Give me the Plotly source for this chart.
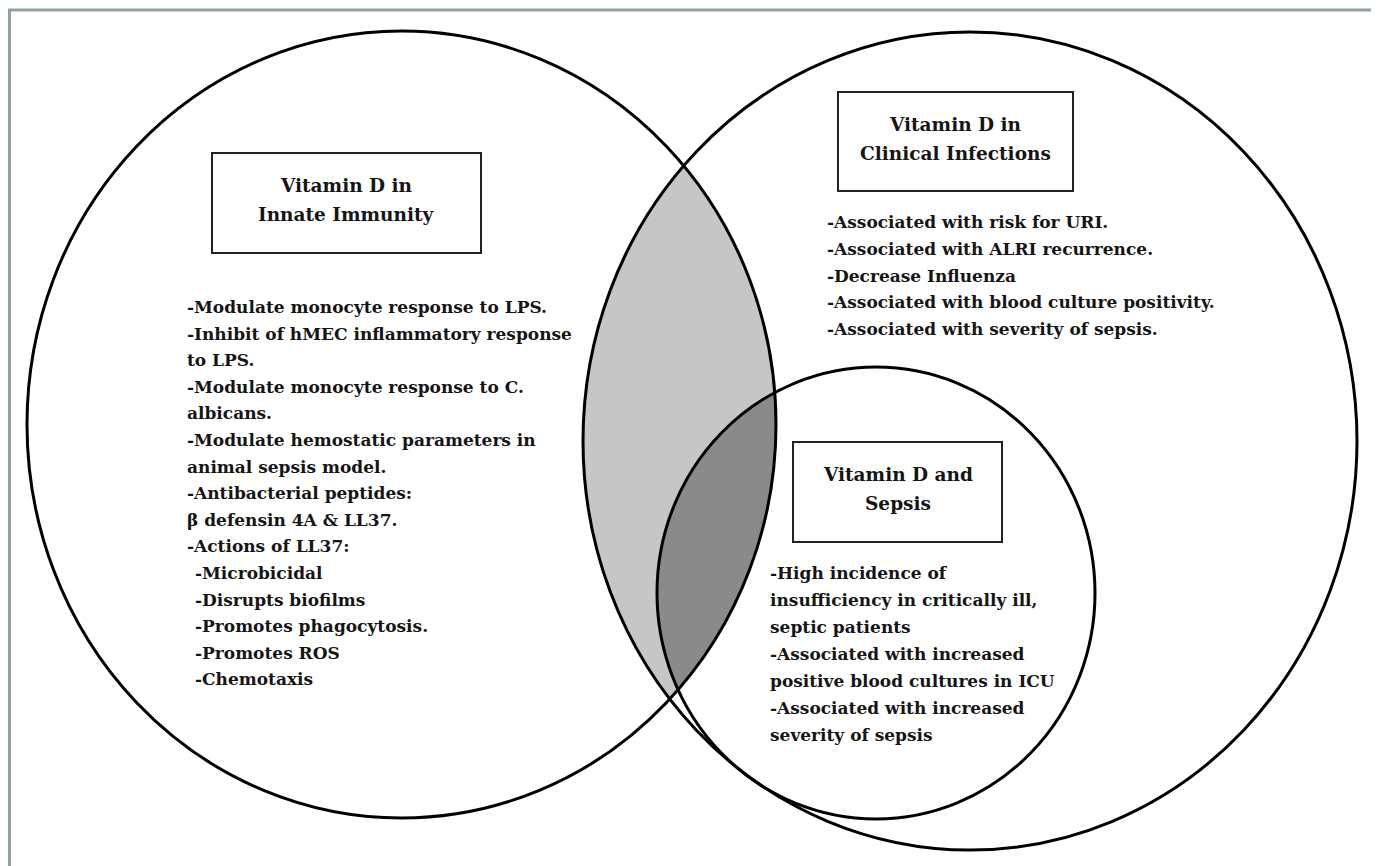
import numpy as np
import plotly.graph_objects as go

W, H = 1379, 866
OFF = 8  # default page margin of the html body

# circle geometry: (cx, cy, rx, ry) in pixel space
circle_names = ["Innate Immunity", "Clinical Infections", "Sepsis"]
circle_cx = [401.5, 970, 876]
circle_cy = [424.5, 441, 593]
circle_rx = [374.5, 387, 219]
circle_ry = [393.5, 409, 226]

# header boxes
box_titles = [["Vitamin D in", "Innate Immunity"],
              ["Vitamin D in", "Clinical Infections"],
              ["Vitamin D and", "Sepsis"]]
box_x0 = [212, 838, 793]
box_x1 = [481, 1073, 1002]
box_y0 = [153, 92, 442]
box_y1 = [253, 191, 542]

innate_lines = [
    "-Modulate monocyte response to LPS.",
    "-Inhibit of hMEC inflammatory response",
    "to LPS.",
    "-Modulate monocyte response to C.",
    "albicans.",
    "-Modulate hemostatic parameters in",
    "animal sepsis model.",
    "-Antibacterial peptides:",
    "β defensin 4A & LL37.",
    "-Actions of LL37:",
    "  -Microbicidal",
    "  -Disrupts biofilms",
    "  -Promotes phagocytosis.",
    "  -Promotes ROS",
    "  -Chemotaxis",
]
clinical_lines = [
    "-Associated with risk for URI.",
    "-Associated with ALRI recurrence.",
    "-Decrease Influenza",
    "-Associated with blood culture positivity.",
    "-Associated with severity of sepsis.",
]
sepsis_lines = [
    "-High incidence of",
    "insufficiency in critically ill,",
    "septic patients",
    "-Associated with increased",
    "positive blood cultures in ICU",
    "-Associated with increased",
    "severity of sepsis",
]

FONT = "DejaVu Serif"
FS = 17
FS_TITLE = 18.5
TEXT_COLOR = "#151515"


def ellipse_pts(i, n=2000):
    t = np.linspace(0, 2 * np.pi, n, endpoint=False)
    return circle_cx[i] + circle_rx[i] * np.cos(t), circle_cy[i] + circle_ry[i] * np.sin(t)


def inside(i, x, y):
    return ((x - circle_cx[i]) / circle_rx[i]) ** 2 + ((y - circle_cy[i]) / circle_ry[i]) ** 2 <= 1.0


def intersection(ids):
    xs, ys = [], []
    for i in ids:
        x, y = ellipse_pts(i)
        m = np.ones_like(x, dtype=bool)
        for j in ids:
            if j != i:
                m &= inside(j, x, y)
        xs.append(x[m]); ys.append(y[m])
    x = np.concatenate(xs); y = np.concatenate(ys)
    mx, my = x.mean(), y.mean()
    order = np.argsort(np.arctan2(y - my, x - mx))
    x, y = x[order], y[order]
    return np.append(x, x[0]), np.append(y, y[0])


fig = go.Figure()

lx, ly = intersection([0, 1])
fig.add_trace(go.Scatter(x=lx, y=ly, fill="toself", fillcolor="#c6c6c6",
                         line=dict(width=0), mode="lines", hoverinfo="skip", showlegend=False))
dx, dy = intersection([0, 1, 2])
fig.add_trace(go.Scatter(x=dx, y=dy, fill="toself", fillcolor="#8a8a8a",
                         line=dict(width=0), mode="lines", hoverinfo="skip", showlegend=False))

shapes = []
# outer frame
shapes.append(dict(type="rect", xref="x", yref="y", x0=9.5, x1=1373, y0=10, y1=900,
                   line=dict(color="#8fa39c", width=3), fillcolor="rgba(0,0,0,0)", layer="below"))
for i in range(3):
    shapes.append(dict(type="circle", xref="x", yref="y",
                       x0=circle_cx[i] - circle_rx[i], x1=circle_cx[i] + circle_rx[i],
                       y0=circle_cy[i] - circle_ry[i], y1=circle_cy[i] + circle_ry[i],
                       line=dict(color="black", width=3)))
for i in range(3):
    shapes.append(dict(type="rect", xref="x", yref="y",
                       x0=box_x0[i], x1=box_x1[i], y0=box_y0[i], y1=box_y1[i],
                       line=dict(color="#222", width=2), fillcolor="white"))

annotations = []
for i in range(3):
    cx = (box_x0[i] + box_x1[i]) / 2
    cy = (box_y0[i] + box_y1[i]) / 2
    for k, t in enumerate(box_titles[i]):
        annotations.append(dict(x=cx, y=cy - 17.5 + 29 * k, text="<b>%s</b>" % t, showarrow=False,
                                xanchor="center", yanchor="middle",
                                font=dict(family=FONT, size=FS_TITLE, color=TEXT_COLOR)))


def add_block(lines, x0, y0, dy):
    for k, t in enumerate(lines):
        indent = 8 if t.startswith("  ") else 0
        annotations.append(dict(x=x0 + indent, y=y0 + dy * k, text="<b>%s</b>" % t.strip(), showarrow=False,
                                xanchor="left", yanchor="middle",
                                font=dict(family=FONT, size=FS, color=TEXT_COLOR)))


add_block(innate_lines, 185, 307, 26.6)
add_block(clinical_lines, 825, 222, 26.8)
add_block(sepsis_lines, 768, 573, 27)

fig.update_layout(
    width=W - OFF, height=H - OFF, margin=dict(l=0, r=0, t=0, b=0),
    paper_bgcolor="white", plot_bgcolor="white",
    xaxis=dict(range=[OFF, W], visible=False, fixedrange=True),
    yaxis=dict(range=[H, OFF], visible=False, fixedrange=True),
    shapes=shapes, annotations=annotations, showlegend=False,
)
fig.write_html("out.html")
